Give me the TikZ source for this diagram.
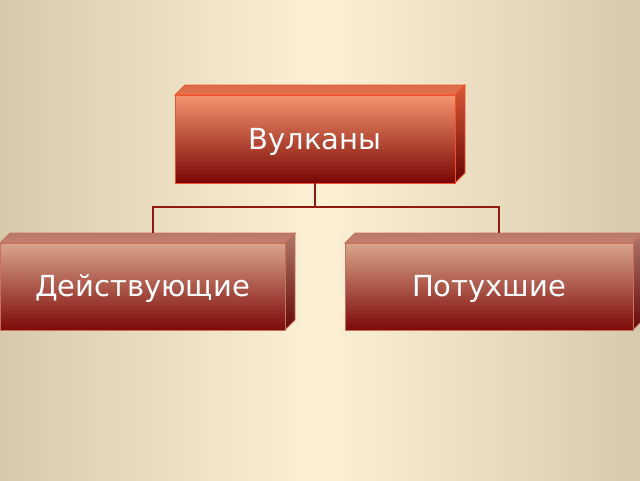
\documentclass[tikz,border=0pt]{standalone}
\usepackage{fontspec}
\setsansfont{DejaVu Sans}
\usetikzlibrary{calc}

\definecolor{bgedge}{HTML}{D7CAAC}
\definecolor{bgmid}{HTML}{FDF0D5}
\definecolor{volctop}{HTML}{F5946E}
\definecolor{volcbot}{HTML}{7A0603}
\definecolor{volcline}{HTML}{F0502A}
\definecolor{volclid}{HTML}{E4724E}
\definecolor{volcside}{HTML}{D85A38}
\definecolor{kindtop}{HTML}{D9A48C}
\definecolor{kindbot}{HTML}{7D0A08}
\definecolor{kindline}{HTML}{C8705C}
\definecolor{kindlid}{HTML}{C4806E}
\definecolor{kindside}{HTML}{B07868}
\definecolor{linkred}{HTML}{8E1A10}

\tikzset{
  box/.style={inner sep=0pt, line width=0.8pt, text=white,
    text height=20pt, text depth=-1pt,
    font=\sffamily\fontsize{29}{34}\selectfont},
  link/.style={linkred, line width=2pt},
}

\begin{document}
\begin{tikzpicture}[x=1pt, y=-1pt]
  % background
  \shade[left color=bgedge, right color=bgedge, middle color=bgmid] (0,0) rectangle (640,480);
  \useasboundingbox (0,0) rectangle (640,480);

  % top box
  \shade[top color=volclid!95!black, bottom color=volclid, draw=volcline, line width=0.8pt]
    (175,95) -- ++(10,-10) -- ++(280,0) -- ++(-10,10) -- cycle;
  \shade[top color=volcside, bottom color=volcbot!85!black, draw=volcline, line width=0.8pt]
    (455,95) -- ++(10,-10) -- ++(0,88) -- ++(-10,10) -- cycle;
  \node[box, draw=volcline, top color=volctop, bottom color=volcbot,
    minimum width=280pt, minimum height=88pt] (volc) at (315,139) {Вулканы};

  % lower boxes
  \foreach \name/\cx/\bw/\txt in {act/142.5/285/Действующие, ext/489/288/Потухшие}{
    \shade[top color=kindlid!95!black, bottom color=kindlid, draw=kindline, line width=0.8pt]
      ($(\cx,243)+(-\bw/2,0)$) -- ++(10,-10) -- ++(\bw,0) -- ++(-10,10) -- cycle;
    \shade[top color=kindside, bottom color=kindbot!80!black, draw=kindline, line width=0.8pt]
      ($(\cx,243)+(\bw/2,0)$) -- ++(10,-10) -- ++(0,87) -- ++(-10,10) -- cycle;
    \node[box, draw=kindline, top color=kindtop, bottom color=kindbot,
      minimum width=\bw pt, minimum height=87pt] (\name) at (\cx,286.5) {\txt};
  }
  \coordinate (actback) at ($(act.north)+(10,-10)$);
  \coordinate (extback) at ($(ext.north)+(10,-10)$);

  % connectors
  \draw[link] (volc.south) -- ++(0,24) coordinate (fork);
  \draw[link] (fork) -| (actback);
  \draw[link] (fork) -| (extback);
\end{tikzpicture}
\end{document}
